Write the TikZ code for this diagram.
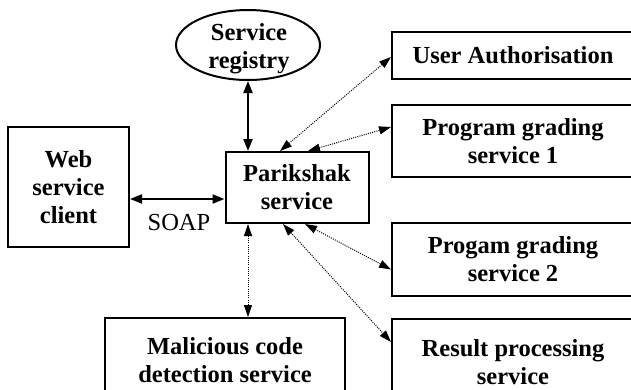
\documentclass[tikz,border=0pt]{standalone}
\usepackage{fontspec}
\setmainfont{Liberation Serif}
\usetikzlibrary{arrows.meta,shapes.geometric}
\begin{document}
\begin{tikzpicture}[x=1pt,y=-1pt,
  every node/.style={font=\fontsize{24.5}{28}\selectfont\bfseries, align=center, inner sep=0pt},
  box/.style={draw, line width=2pt, rectangle, minimum width=#1},
  solidarr/.style={line width=2pt, {Triangle[length=12pt,width=9pt]}-{Triangle[length=12pt,width=9pt]}},
  dotarr/.style={line width=1pt, dash pattern=on 1pt off 1.2pt, {Triangle[length=12pt,width=8pt]}-{Triangle[length=12pt,width=8pt]}}]
\useasboundingbox (0,0) rectangle (631,389);
\clip (0,0) rectangle (631,389);
\node[draw, line width=2pt, ellipse, minimum width=144pt, minimum height=70pt] (reg) at (248,45) {};
\node at (249,49) {Service\\registry};
\node[box=121pt, minimum height=120pt] (web) at (68.5,187) {Web\\service\\client};
\node[box=143pt, minimum height=71pt] (pk) at (297,187.5) {Parikshak\\service};
\node[box=242pt, minimum height=47pt] (ua) at (513,55.5) {User Authorisation};
\node[box=242pt, minimum height=72pt] (pg1) at (513,141) {Program grading\\service 1};
\node[box=242pt, minimum height=73pt] (pg2) at (513,259.5) {Progam grading\\service 2};
\node[box=242pt, minimum height=86pt] (rp) at (513,362) {Result processing\\service};
\node[box=240pt, minimum height=84pt] (mal) at (225,360) {Malicious code\\detection service};
\node[font=\fontsize{24.5}{28}\selectfont] (soap) at (179,223) {SOAP};
\draw[solidarr] (reg.south) -- (reg.south |- pk.north);
\draw[solidarr] ([yshift=-12pt]web.east) -- ([yshift=-12pt]web.east -| pk.west);
\draw[dotarr] ([xshift=-49pt]pk.south) -- ([xshift=-49pt]pk.south |- mal.north);
\draw[dotarr] ([xshift=-17pt]pk.north) -- ([yshift=-1.5pt]ua.west);
\draw[dotarr] ([xshift=11pt]pk.north) -- ([yshift=14pt]pg1.west);
\draw[dotarr] ([xshift=8pt]pk.south) -- ([yshift=-10pt]pg2.west);
\draw[dotarr] ([xshift=-14pt]pk.south) -- ([yshift=20pt]rp.west);
\end{tikzpicture}
\end{document}
